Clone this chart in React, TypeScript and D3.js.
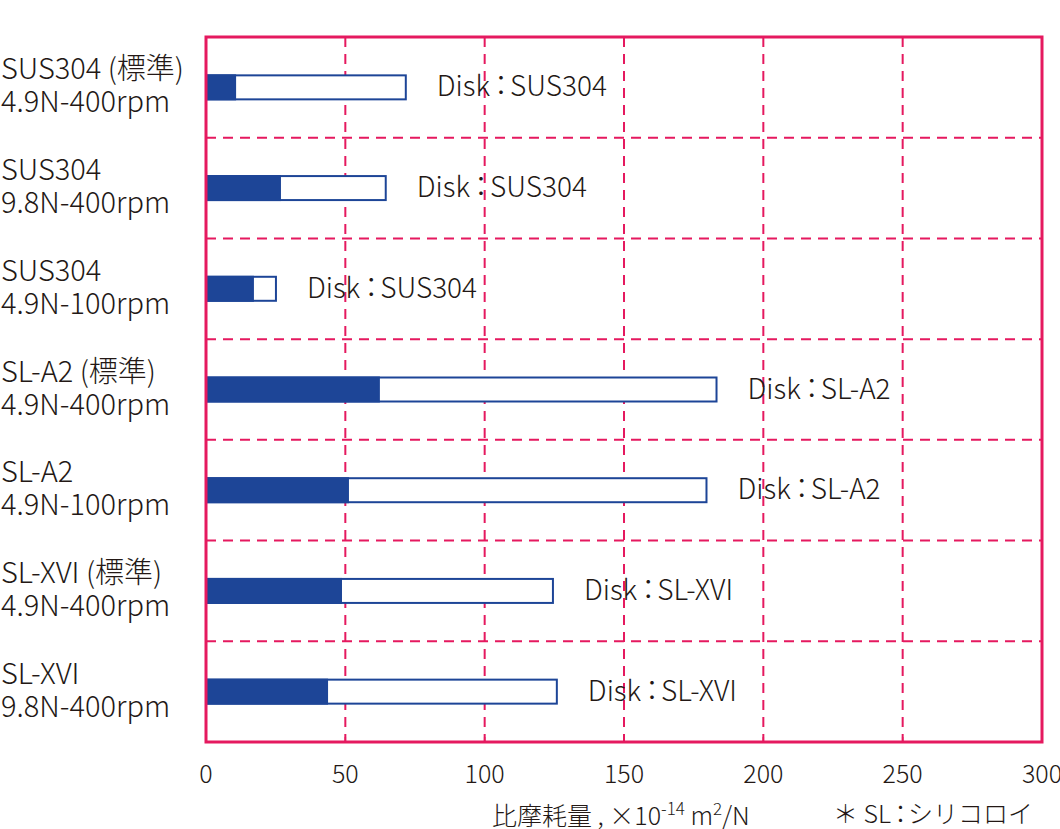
import * as d3 from "d3";

const labelLine1 = ["SUS304 (標準)", "SUS304", "SUS304", "SL-A2 (標準)", "SL-A2", "SL-XVI (標準)", "SL-XVI"];
const labelLine2 = ["4.9N-400rpm", "9.8N-400rpm", "4.9N-100rpm", "4.9N-400rpm", "4.9N-100rpm", "4.9N-400rpm", "9.8N-400rpm"];
const diskNames = ["SUS304", "SUS304", "SUS304", "SL-A2", "SL-A2", "SL-XVI", "SL-XVI"];
const solidPart = [10.8, 26.9, 17.2, 62.4, 51.3, 48.8, 43.8];
const totalWear = [71.7, 64.5, 25.1, 183.2, 179.6, 124.5, 125.9];
const xTicks = [0, 50, 100, 150, 200, 250, 300];

const W = 1060;
const H = 829;
const PINK = "#e5195f";
const BLUE = "#1d4597";
const INK = "#231815";
const FONT = "'Noto Sans CJK JP', 'Noto Sans', sans-serif";

export default function App() {
  const plot = { left: 206, right: 1042, top: 37, bottom: 742 };
  const rows = labelLine1.map((_, i) => i);

  const x = d3.scaleLinear().domain([0, 300]).range([plot.left, plot.right]);
  const y = d3.scaleBand<number>().domain(rows).range([plot.top, plot.bottom]).padding(0);
  const barH = 24;
  const mid = (i: number) => (y(i) ?? 0) + y.bandwidth() / 2;

  return (
    <svg
      width={W}
      height={H}
      style={{ position: "absolute", left: 0, top: 0, background: "#fff" }}
      fontFamily={FONT}
      fontWeight={300}
    >
      {/* grid */}
      {xTicks.slice(1, -1).map((t) => (
        <line key={"v" + t} x1={x(t)} x2={x(t)} y1={plot.top} y2={plot.bottom}
          stroke={PINK} strokeWidth={2} strokeDasharray="10 7" />
      ))}
      {rows.slice(1).map((i) => (
        <line key={"h" + i} x1={plot.left} x2={plot.right} y1={y(i)} y2={y(i)}
          stroke={PINK} strokeWidth={2} strokeDasharray="10 7" />
      ))}

      {/* bars */}
      {rows.map((i) => (
        <g key={"b" + i}>
          <rect x={x(0)} y={mid(i) - barH / 2} width={x(totalWear[i]) - x(0)} height={barH}
            fill="#fff" stroke={BLUE} strokeWidth={2} />
          <rect x={x(0)} y={mid(i) - barH / 2 - 1} width={x(solidPart[i]) - x(0)} height={barH + 2}
            fill={BLUE} />
          <text x={x(totalWear[i]) + 31} y={mid(i) + 9} fontSize={28} fill={INK}>
            Disk<tspan dx={-3}>：</tspan><tspan dx={-5}>{diskNames[i]}</tspan>
          </text>
        </g>
      ))}

      {/* frame */}
      <rect x={plot.left} y={plot.top} width={plot.right - plot.left} height={plot.bottom - plot.top}
        fill="none" stroke={PINK} strokeWidth={3} />
      {xTicks.slice(1, -1).map((t) => (
        <line key={"t" + t} x1={x(t)} x2={x(t)} y1={plot.bottom - 5} y2={plot.bottom}
          stroke={PINK} strokeWidth={1.5} />
      ))}

      {/* category labels */}
      {rows.map((i) => (
        <g key={"l" + i} fill={INK} fontSize={29}>
          <text x={1} y={mid(i) - 8}>{labelLine1[i]}</text>
          <text x={1} y={mid(i) + 25}>{labelLine2[i]}</text>
        </g>
      ))}

      {/* x tick labels */}
      {xTicks.map((t) => (
        <text key={"xl" + t} x={x(t)} y={783} textAnchor="middle" fontSize={25} fill={INK}>
          {t}
        </text>
      ))}

      {/* axis title */}
      <text x={492} y={825} fontSize={25} fill={INK}>
        比摩耗量 , ×10
        <tspan dy={-10} fontSize={17}>-14</tspan>
        <tspan dy={10}> m</tspan>
        <tspan dy={-10} fontSize={17}>2</tspan>
        <tspan dy={10}>/N</tspan>
      </text>
      <text x={1033} y={823} textAnchor="end" fontSize={25} fill={INK}>
        ＊ SL<tspan dx={-3}>：</tspan><tspan dx={-5}>シリコロイ</tspan>
      </text>
    </svg>
  );
}
